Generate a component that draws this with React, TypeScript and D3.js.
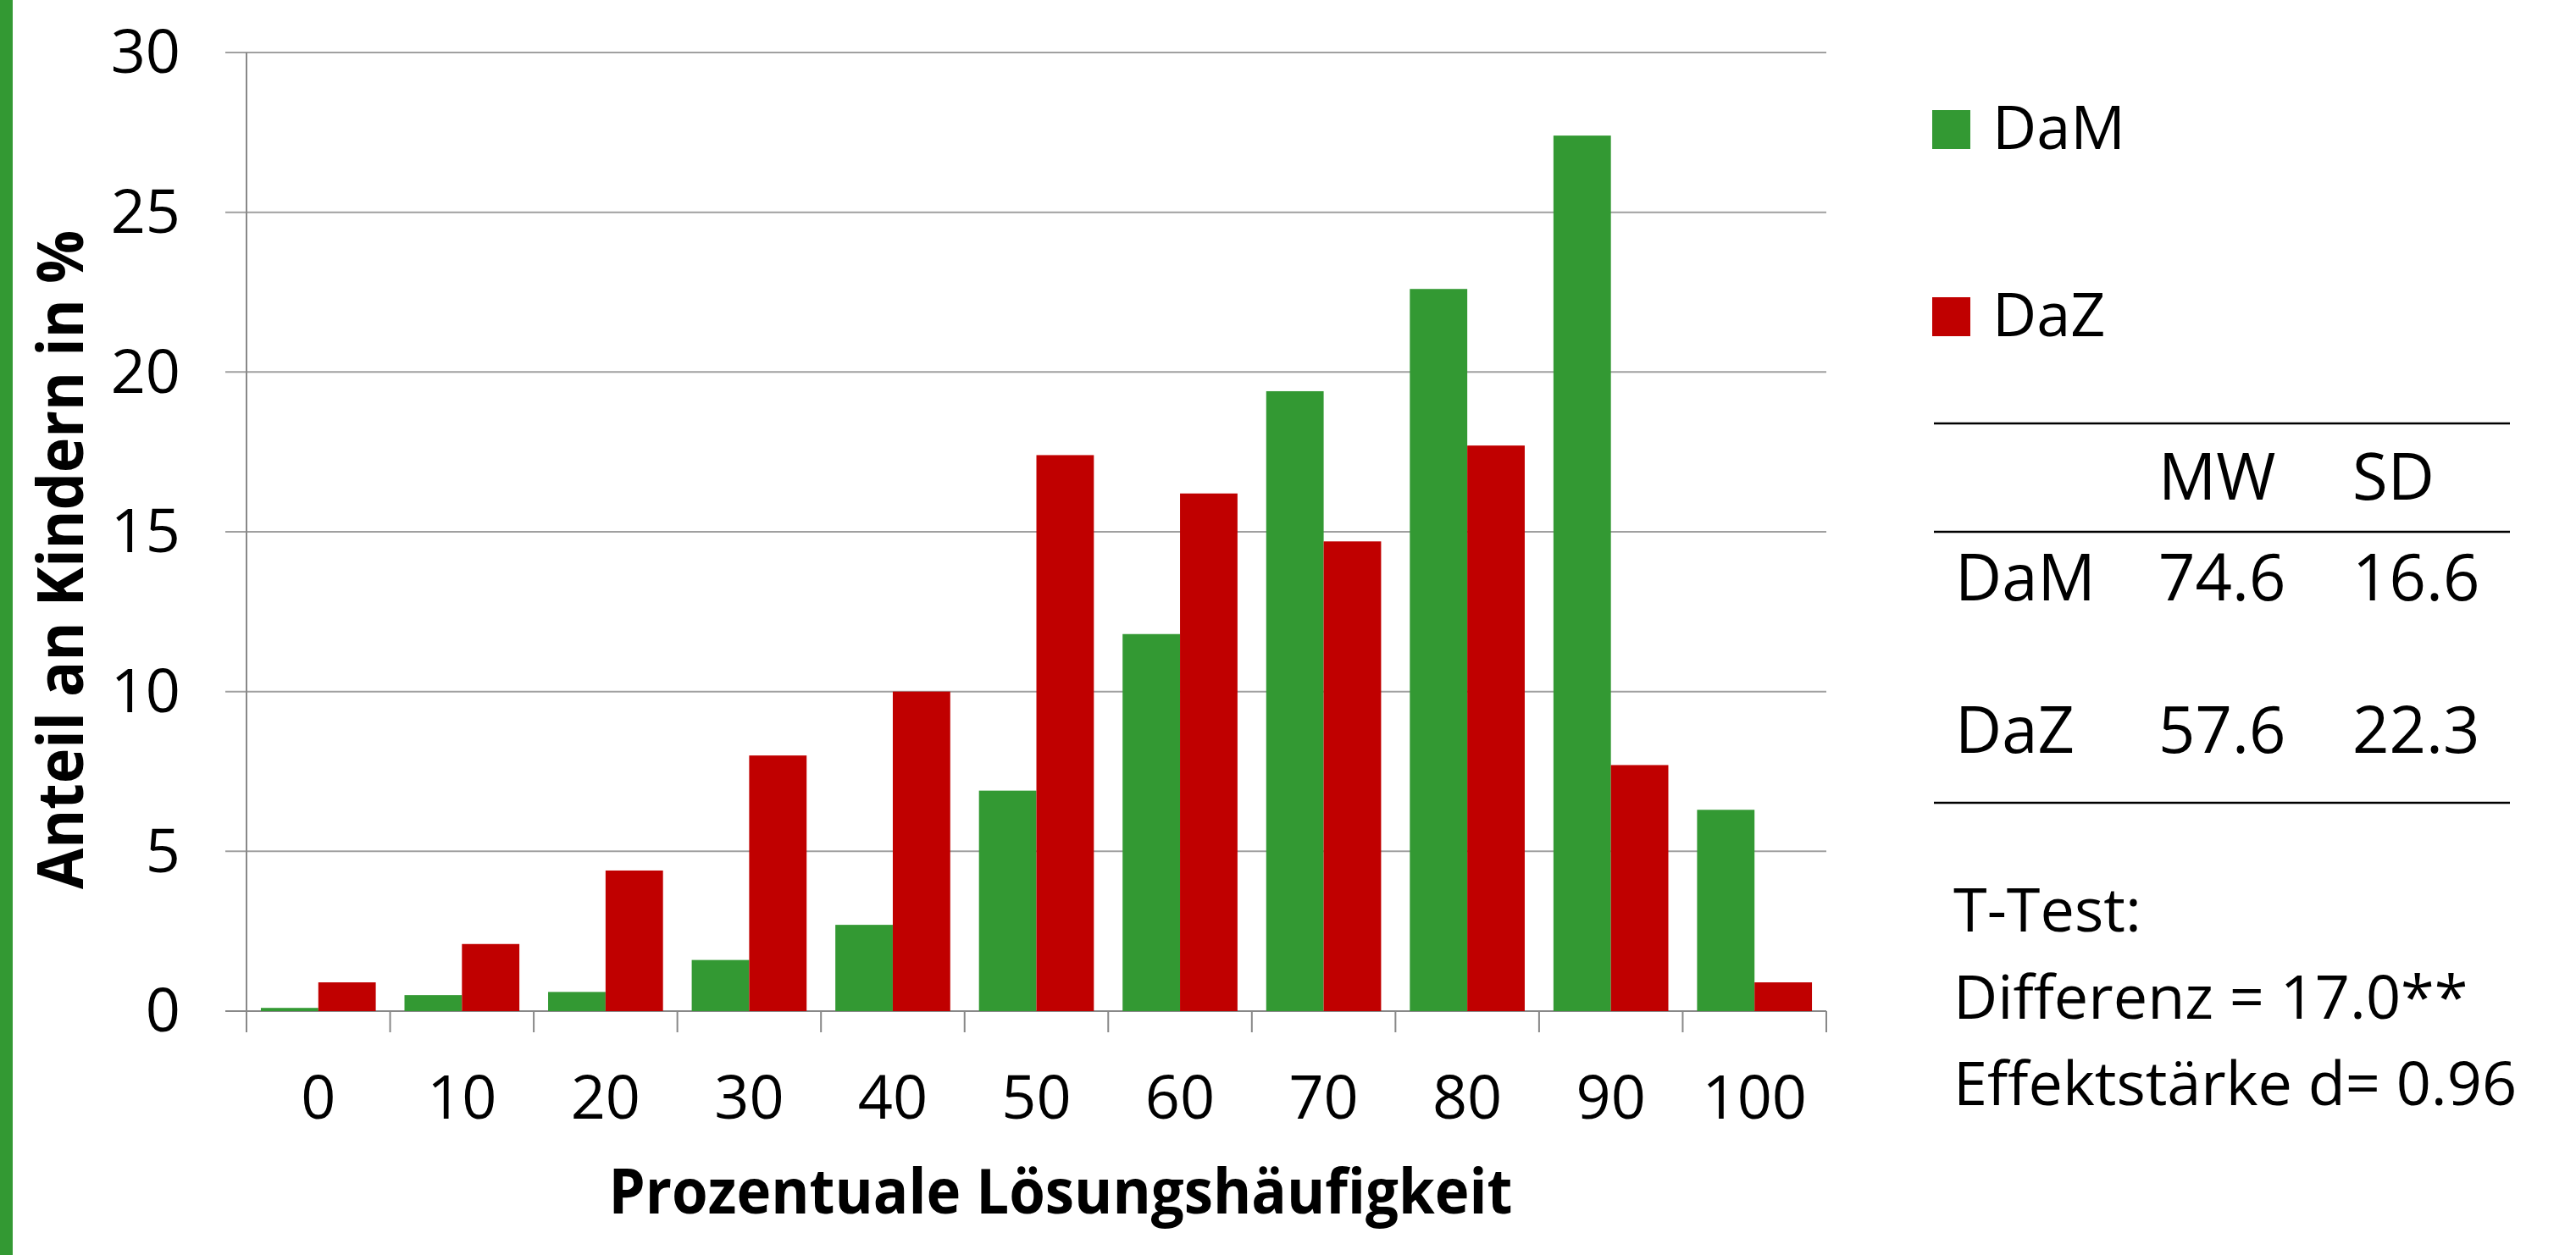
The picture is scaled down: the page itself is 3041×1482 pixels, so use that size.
import React, { useEffect, useRef } from "react";
import * as d3 from "d3";

// chart data
const categories = ["0", "10", "20", "30", "40", "50", "60", "70", "80", "90", "100"];
const seriesNames = ["DaM", "DaZ"];
const damValues = [0.1, 0.5, 0.6, 1.6, 2.7, 6.9, 11.8, 19.4, 22.6, 27.4, 6.3];
const dazValues = [0.9, 2.1, 4.4, 8.0, 10.0, 17.4, 16.2, 14.7, 17.7, 7.7, 0.9];
const yTicks = [0, 5, 10, 15, 20, 25, 30];

// stats table on the right
const tableHeaders = ["MW", "SD"];
const tableRows = ["DaM", "DaZ"];
const meanValues = ["74.6", "57.6"];
const sdValues = ["16.6", "22.3"];
const tTestLines = ["T-Test:", "Differenz = 17.0**", "Effektstärke d= 0.96"];

const WIDTH = 3041;
const HEIGHT = 1482;
const FONT = "'Open Sans', 'Noto Sans', sans-serif";
const colors = ["#339933", "#C00000"];

const App: React.FC = () => {
  const svgRef = useRef<SVGSVGElement | null>(null);

  useEffect(() => {
    const svg = d3.select(svgRef.current);
    svg.selectAll("*").remove();

    const plot = { left: 291, right: 2156, top: 62, bottom: 1194 };

    const x0 = d3
      .scaleBand()
      .domain(categories)
      .range([plot.left, plot.right])
      .paddingInner(0.2)
      .paddingOuter(0.1);

    const x1 = d3
      .scaleBand()
      .domain(seriesNames)
      .range([0, x0.bandwidth()])
      .padding(0);

    const y = d3.scaleLinear().domain([0, 30]).range([plot.bottom, plot.top]);

    const color = d3.scaleOrdinal<string>().domain(seriesNames).range(colors);

    // green stripe on the left border
    svg.append("rect").attr("x", 0).attr("y", 0).attr("width", 15).attr("height", HEIGHT).attr("fill", "#339933");

    // horizontal gridlines (extend left as tick marks)
    svg
      .append("g")
      .selectAll("line")
      .data(yTicks)
      .enter()
      .append("line")
      .attr("x1", plot.left - 25)
      .attr("x2", plot.right)
      .attr("y1", (d) => y(d))
      .attr("y2", (d) => y(d))
      .attr("stroke", (d) => (d === 0 ? "#888" : "#a0a0a0"))
      .attr("stroke-width", 2);

    // y axis line
    svg
      .append("line")
      .attr("x1", plot.left)
      .attr("x2", plot.left)
      .attr("y1", plot.top)
      .attr("y2", plot.bottom + 25)
      .attr("stroke", "#888")
      .attr("stroke-width", 2);

    // x axis category ticks
    const boundaries = categories.map((c) => x0(c)! - x0.step() * 0.1).concat([plot.right]);
    svg
      .append("g")
      .selectAll("line")
      .data(boundaries)
      .enter()
      .append("line")
      .attr("x1", (d) => d)
      .attr("x2", (d) => d)
      .attr("y1", plot.bottom)
      .attr("y2", plot.bottom + 25)
      .attr("stroke", "#888")
      .attr("stroke-width", 2);

    // bars
    const rows = categories.map((c, i) => ({ cat: c, values: [damValues[i], dazValues[i]] }));
    svg
      .append("g")
      .selectAll("g")
      .data(rows)
      .enter()
      .append("g")
      .attr("transform", (d) => `translate(${x0(d.cat)}, 0)`)
      .selectAll("rect")
      .data((d) => d.values.map((v, j) => ({ name: seriesNames[j], value: v })))
      .enter()
      .append("rect")
      .attr("x", (d) => x1(d.name)!)
      .attr("y", (d) => y(d.value))
      .attr("width", x1.bandwidth())
      .attr("height", (d) => y(0) - y(d.value))
      .attr("fill", (d) => color(d.name));

    // y tick labels
    svg
      .append("g")
      .selectAll("text")
      .data(yTicks)
      .enter()
      .append("text")
      .attr("x", 213)
      .attr("y", (d) => y(d))
      .attr("dy", "0.34em")
      .attr("text-anchor", "end")
      .attr("font-family", FONT)
      .attr("font-size", 72)
      .text((d) => d);

    // x tick labels
    svg
      .append("g")
      .selectAll("text")
      .data(categories)
      .enter()
      .append("text")
      .attr("x", (d) => x0(d)! + x0.bandwidth() / 2)
      .attr("y", 1321)
      .attr("text-anchor", "middle")
      .attr("font-family", FONT)
      .attr("font-size", 72)
      .text((d) => d);

    // axis titles
    svg
      .append("text")
      .attr("x", 1252)
      .attr("y", 1433)
      .attr("text-anchor", "middle")
      .attr("font-family", FONT)
      .attr("font-weight", "bold")
      .attr("font-size", 74)
      .attr("textLength", 1067)
      .attr("lengthAdjust", "spacingAndGlyphs")
      .text("Prozentuale Lösungshäufigkeit");

    svg
      .append("text")
      .attr("transform", "translate(98, 661) rotate(-90)")
      .attr("text-anchor", "middle")
      .attr("font-family", FONT)
      .attr("font-weight", "bold")
      .attr("font-size", 76)
      .attr("textLength", 778)
      .attr("lengthAdjust", "spacingAndGlyphs")
      .text("Anteil an Kindern in %");

    // legend
    const legend = svg.append("g");
    const legendY = [130, 351];
    seriesNames.forEach((name, i) => {
      legend
        .append("rect")
        .attr("x", 2281)
        .attr("y", legendY[i])
        .attr("width", 45)
        .attr("height", 46)
        .attr("fill", color(name));
      legend
        .append("text")
        .attr("x", 2352)
        .attr("y", legendY[i] + 46)
        .attr("font-family", FONT)
        .attr("font-size", 72)
        .text(name);
    });

    // stats table
    const table = svg.append("g").attr("font-family", FONT).attr("font-size", 76);
    [500, 628, 948].forEach((ly) => {
      table
        .append("line")
        .attr("x1", 2283)
        .attr("x2", 2963)
        .attr("y1", ly)
        .attr("y2", ly)
        .attr("stroke", "#000")
        .attr("stroke-width", 2.5);
    });
    const colX = [2548, 2777];
    tableHeaders.forEach((h, i) => {
      table.append("text").attr("x", colX[i]).attr("y", 590).text(h);
    });
    const rowY = [709, 889];
    tableRows.forEach((r, i) => {
      table.append("text").attr("x", 2308).attr("y", rowY[i]).text(r);
      table.append("text").attr("x", colX[0]).attr("y", rowY[i]).text(meanValues[i]);
      table.append("text").attr("x", colX[1]).attr("y", rowY[i]).text(sdValues[i]);
    });

    // t-test annotation
    tTestLines.forEach((line, i) => {
      svg
        .append("text")
        .attr("x", 2306)
        .attr("y", 1100 + i * 102.5)
        .attr("font-family", FONT)
        .attr("font-size", 72)
        .text(line);
    });
  }, []);

  return (
    <svg
      ref={svgRef}
      width={WIDTH}
      height={HEIGHT}
      style={{ position: "absolute", left: 0, top: 0, background: "#fff" }}
    />
  );
};

export default App;
